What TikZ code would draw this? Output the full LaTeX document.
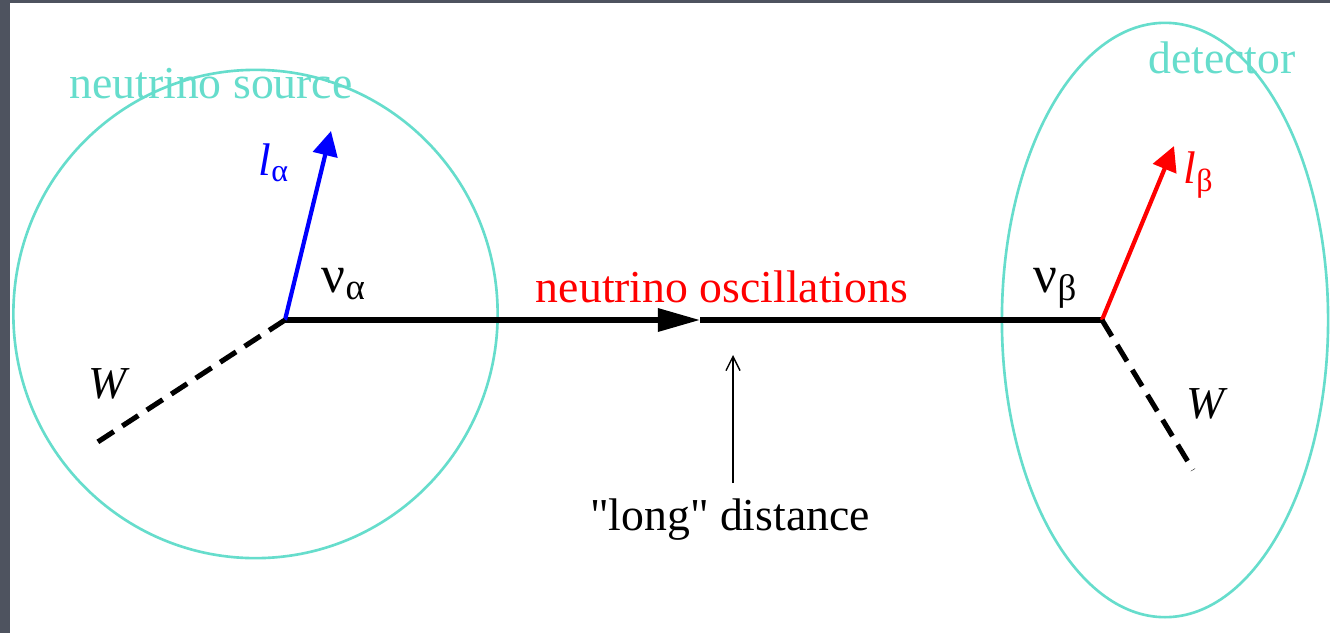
\documentclass[tikz,border=0pt]{standalone}
\usepackage{fontspec}
\newfontfamily\diagfont{LiberationSerif}[Extension=.ttf, UprightFont=*-Regular, ItalicFont=*-Italic, BoldFont=*-Bold]
\usetikzlibrary{arrows.meta}
\usepackage{xcolor}
\definecolor{slidegray}{RGB}{78,83,95}
\definecolor{ringcyan}{RGB}{102,221,204}
\definecolor{lineblack}{RGB}{0,0,0}

\begin{document}
\begin{tikzpicture}[x=0.01cm, y=-0.01cm, font=\diagfont\fontsize{13}{15}\selectfont,
  ring/.style={draw=ringcyan, line width=0.75pt},
  txt/.style={inner sep=0pt},
  wline/.style={draw=lineblack, line width=1.45pt, dash pattern=on 5.4pt off 2.9pt},
  lepton/.style={line width=1.2pt, -{Triangle[length=7pt, width=7pt]}}]
\fill[slidegray] (0,0) rectangle (1330,633);
\fill[white] (10,3) rectangle (1330,633);
\useasboundingbox (0,0) rectangle (1330,633);

% source and detector regions
\draw[ring] (255.5,314) ellipse [x radius=2.42cm, y radius=2.44cm];
\draw[ring] (1165,320) ellipse [x radius=1.63cm, y radius=2.97cm];
\node[txt, text=ringcyan, anchor=base] (srclabel) at (211,98) {neutrino source};
\node[txt, text=ringcyan, anchor=base] (detlabel) at (1222,73) {detector};

% vertices
\coordinate (src) at (285,320);
\coordinate (det) at (1102,320);
\coordinate (mid) at (700,320);
\coordinate (latip) at (331,131);
\coordinate (lbtip) at (1174,146);
\coordinate (wsrc) at (90,447);
\coordinate (wdet) at (1193,470);

% neutrino line
\draw[line width=1.45pt, -{Triangle[length=12pt, width=6.4pt]}] (src) -- (mid);
\draw[line width=1.45pt] (mid) -- (det);

% charged leptons and W lines
\draw[lepton, blue] (src) -- (latip);
\draw[lepton, red] (det) -- (lbtip);
\draw[wline] (src) -- (wsrc);
\draw[wline] (det) -- (wdet);

% labels
\node[txt, anchor=base west, font=\diagfont\fontsize{15}{17}\selectfont] (nua) at (321,292) {ν\textsubscript{α}};
\node[txt, anchor=base west, font=\diagfont\fontsize{15}{17}\selectfont] (nub) at (1033,292) {ν\textsubscript{β}};
\node[txt, anchor=base west, text=blue] (la) at (258,175) {\textit{l}\textsubscript{α}};
\node[txt, anchor=base west, text=red] (lb) at (1183,183) {\textit{l}\textsubscript{β}};
\node[txt, anchor=base west] (wa) at (88,398) {\textit{W}};
\node[txt, anchor=base west] (wb) at (1186,418) {\textit{W}};
\node[txt, text=red, anchor=base] (osc) at (722,302) {neutrino oscillations};

% distance pointer
\node[txt, anchor=base] (dist) at (730,530) {"long" distance};
\coordinate (ptrfoot) at (733,483);
\coordinate (ptrtip) at (733,355);
\draw[line width=0.4pt, -{Straight Barb[length=4pt, width=4pt]}] (ptrfoot) -- (ptrtip);
\end{tikzpicture}
\end{document}
